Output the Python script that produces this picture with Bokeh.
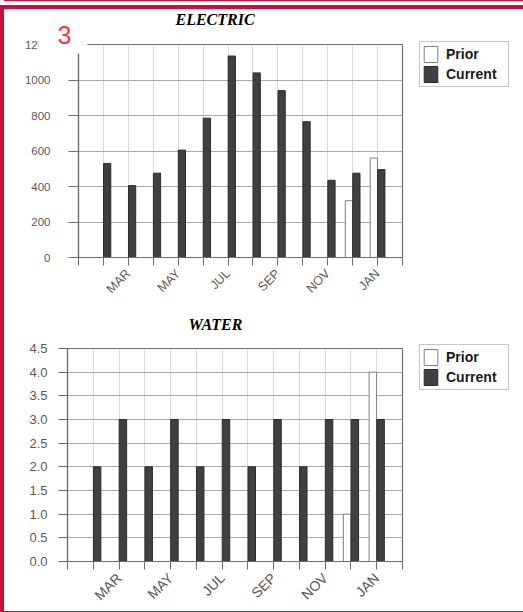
import math
from bokeh.plotting import figure
from bokeh.models import (ColumnDataSource, FixedTicker, Legend, LegendItem,
                          Title, Range1d)
from bokeh.layouts import column, row
from bokeh.transform import dodge
from bokeh.embed import file_html
from bokeh.resources import INLINE
from bokeh.core.properties import value

NaN = float("nan")

# ---------------- data ----------------
months = ["FEB", "MAR", "APR", "MAY", "JUN", "JUL",
          "AUG", "SEP", "OCT", "NOV", "DEC", "JAN"]
shown_labels = ["MAR", "MAY", "JUL", "SEP", "NOV", "JAN"]

electric_prior = [NaN, NaN, NaN, NaN, NaN, NaN, NaN, NaN, NaN, NaN, 320, 560]
electric_current = [530, 405, 475, 605, 785, 1135, 1040, 940, 765, 435, 475, 495]
electric_ticks = [0, 200, 400, 600, 800, 1000, 1200]
electric_tick_labels = ["0", "200", "400", "600", "800", "1000", "1200"]

water_prior = [NaN, NaN, NaN, NaN, NaN, NaN, NaN, NaN, NaN, NaN, 1.0, 4.0]
water_current = [2, 3, 2, 3, 2, 3, 2, 3, 2, 3, 3, 3]
water_ticks = [0, 0.5, 1.0, 1.5, 2.0, 2.5, 3.0, 3.5, 4.0, 4.5]
water_tick_labels = ["0.0", "0.5", "1.0", "1.5", "2.0", "2.5", "3.0", "3.5", "4.0", "4.5"]

series_names = ["Prior", "Current"]
page_number = "3"

positions = list(range(1, len(months) + 1))

RED = "#c8103c"
AXIS = "#6e6e6e"
TXT = "#595959"


def make_chart(title_text, prior, current, y_ticks, y_labels, *, frame_w, b_left,
               b_top, b_bottom, b_right, title_offset, title_standoff,
               ylab_px, xlab_px, ystandoff, ytick_out, legend_loc, frame_css):
    src = ColumnDataSource(dict(x=positions, prior=prior, current=current))
    p = figure(frame_width=frame_w, frame_height=213,
               x_range=Range1d(0, len(months) + 1),
               y_range=Range1d(y_ticks[0], y_ticks[-1]),
               output_backend="svg", toolbar_location=None,
               min_border_left=b_left, min_border_right=b_right,
               min_border_top=b_top, min_border_bottom=b_bottom,
               background_fill_color="white", border_fill_color="white",
               outline_line_color=AXIS, outline_line_width=1.2,
               styles={"box-shadow": frame_css})

    # title
    p.title.text = title_text
    p.title.align = "left"
    p.title.offset = title_offset
    p.title.standoff = title_standoff
    p.title.text_font = "Liberation Serif"
    p.title.text_font_style = "bold italic"
    p.title.text_font_size = "16px"
    p.title.text_color = "black"

    # x axis
    xt = FixedTicker(ticks=list(range(0, len(months) + 2)))
    p.xaxis.ticker = xt
    p.xgrid.ticker = xt
    overrides = {t: "" for t in range(0, len(months) + 2)}
    for pos, m in zip(positions, months):
        if m in shown_labels:
            overrides[pos] = m
    p.xaxis.major_label_overrides = overrides
    p.xaxis.major_label_orientation = math.pi / 4
    p.xaxis.major_label_text_font = "Liberation Sans"
    p.xaxis.major_label_text_font_size = xlab_px
    p.xaxis.major_label_text_color = TXT
    p.xaxis.major_label_standoff = 6
    p.xaxis.major_tick_out = 8
    p.xaxis.major_tick_in = 0
    p.xaxis.minor_tick_line_color = None
    p.xaxis.axis_line_color = AXIS
    p.xaxis.axis_line_width = 1.2
    p.xaxis.major_tick_line_color = AXIS

    # y axis
    yt = FixedTicker(ticks=y_ticks)
    p.yaxis.ticker = yt
    p.ygrid.ticker = yt
    p.yaxis.major_label_overrides = {t: l for t, l in zip(y_ticks, y_labels)}
    p.yaxis.major_label_text_font = "Liberation Sans"
    p.yaxis.major_label_text_font_size = ylab_px
    p.yaxis.major_label_text_color = TXT
    p.yaxis.major_label_standoff = ystandoff
    p.yaxis.major_tick_out = ytick_out
    p.yaxis.major_tick_in = 0
    p.yaxis.minor_tick_line_color = None
    p.yaxis.axis_line_color = AXIS
    p.yaxis.axis_line_width = 1.2
    p.yaxis.major_tick_line_color = AXIS

    # grids
    p.xgrid.grid_line_color = "#d9d9d9"
    p.ygrid.grid_line_color = "#a8a8a8"
    p.ygrid.grid_line_width = 1.2

    # bars
    r_prior = p.vbar(x=dodge("x", -0.15), top="prior", width=0.29, source=src,
                     fill_color="white", line_color="#7f7f7f", line_width=1)
    r_cur = p.vbar(x=dodge("x", 0.15), top="current", width=0.29, source=src,
                   fill_color="#404040", line_color="#2a2a2a", line_width=1)

    legend = Legend(items=[LegendItem(label=value(series_names[0]), renderers=[r_prior]),
                           LegendItem(label=value(series_names[1]), renderers=[r_cur])],
                    location=legend_loc, orientation="vertical",
                    glyph_width=17, glyph_height=20, spacing=0, padding=2,
                    label_standoff=7, label_width=60, margin=10,
                    label_text_font="Liberation Sans", label_text_font_style="bold",
                    label_text_font_size="14px", label_text_color="#1a1a1a",
                    border_line_color="#8c8c8c", border_line_width=1.5,
                    background_fill_color="white", background_fill_alpha=1)
    p.add_layout(legend, "right")
    return p


# red page frame drawn as shadows around each chart (left 4, right 2, top 4, bottom 6)
top_frame = (f"0 -4px 0 0 {RED}, -4px 0 0 0 {RED}, 2px 0 0 0 {RED}, "
             f"-4px -4px 0 0 {RED}, 2px -4px 0 0 {RED}, "
             f"0 -8px 0 0 white, 0 -9px 0 0 {RED}")
bottom_frame = f"-1px 3px 0 3px {RED}"

p1 = make_chart("ELECTRIC", electric_prior, electric_current,
                electric_ticks, electric_tick_labels,
                frame_w=324, b_left=74, b_top=35, b_bottom=49, b_right=119,
                title_offset=97, title_standoff=-2,
                ylab_px="11.5px", xlab_px="12.5px", ystandoff=18, ytick_out=10,
                legend_loc=(17, 170), frame_css=top_frame)

# red page number with a white box over the chart's corner
p1.add_layout(Title(text=page_number, align="left", offset=-40, standoff=-18,
                    text_color="#f5383a", text_font="Liberation Sans",
                    text_font_style="normal", text_font_size="25px",
                    background_fill_color="white",
                    padding=dict(left=19, right=16, top=6, bottom=10)), "above")

p2 = make_chart("WATER", water_prior, water_current,
                water_ticks, water_tick_labels,
                frame_w=335, b_left=63, b_top=42, b_bottom=45, b_right=119,
                title_offset=121, title_standoff=0,
                ylab_px="13px", xlab_px="14px", ystandoff=11, ytick_out=9,
                legend_loc=(17, 171), frame_css=bottom_frame)
# spacing between the WATER title and its plot area
p2.add_layout(Title(text=" ", text_font_size="2px", standoff=12), "above")

layout = column(row(p1), row(p2), margin=(9, 0, 0, 4))

open("out.html", "w").write(file_html(layout, INLINE))
